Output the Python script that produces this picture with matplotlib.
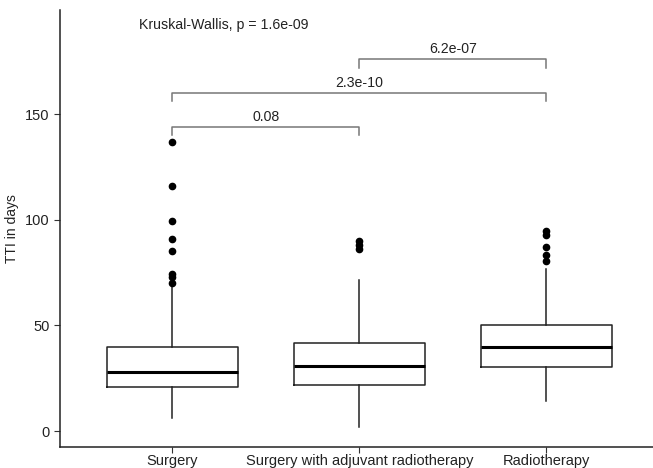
import matplotlib.pyplot as plt

plt.rcParams['font.family'] = ['Liberation Sans', 'DejaVu Sans']

groups = ["Surgery", "Surgery with adjuvant radiotherapy", "Radiotherapy"]
q1 = [21, 22, 30.3]
med = [28, 30.8, 40]
q3 = [40, 41.8, 50]
whislo = [6, 2, 14]
whishi = [68.5, 71.5, 76.5]
outliers = [
    [70, 73, 74.3, 85, 91, 99.5, 116, 137],
    [86, 88, 90],
    [80.6, 83.3, 87, 92.8, 94.8],
]

comparisons = [(1, 2, 144, "0.08"), (1, 3, 160, "2.3e-10"), (2, 3, 176, "6.2e-07")]
kw_text = "Kruskal-Wallis, p = 1.6e-09"

fig = plt.figure(figsize=(6.53, 4.68), dpi=100)
ax = fig.add_axes([0.092, 0.0455, 0.908, 0.933])

stats = []
for i, g in enumerate(groups):
    stats.append(dict(label=g, q1=q1[i], med=med[i], q3=q3[i],
                      whislo=whislo[i], whishi=whishi[i], fliers=outliers[i]))

ax.bxp(stats, positions=[1, 2, 3], widths=0.7, showcaps=False,
       boxprops=dict(color="#222222", lw=1.1),
       whiskerprops=dict(color="#222222", lw=1.1),
       medianprops=dict(color="black", lw=2.2),
       flierprops=dict(marker="o", markerfacecolor="black", markeredgecolor="black",
                       markersize=4.5))

for a, b, y, txt in comparisons:
    ax.plot([a, a, b, b], [y - 4, y, y, y - 4], color="#777777", lw=1.1)
    ax.text((a + b) / 2, y + 1.5, txt, ha="center", va="bottom", fontsize=10.2,
            color="#222222")

ax.text(0.82, 192, kw_text, ha="left", va="center", fontsize=10.2, color="#222222")

ax.set_xlim(0.4, 3.57)
ax.set_ylim(-7.4, 199.2)
ax.set_yticks([0, 50, 100, 150])
ax.set_ylabel("TTI in days", fontsize=10, color="#222222")
ax.tick_params(axis="both", labelsize=10.5, colors="#333333", length=4,
               labelcolor="#222222")
ax.tick_params(axis="x", pad=1.2)
ax.spines["top"].set_visible(False)
ax.spines["right"].set_visible(False)
for s in ["left", "bottom"]:
    ax.spines[s].set_color("#222222")
    ax.spines[s].set_linewidth(1.1)

fig.savefig("out.png", dpi=100)
